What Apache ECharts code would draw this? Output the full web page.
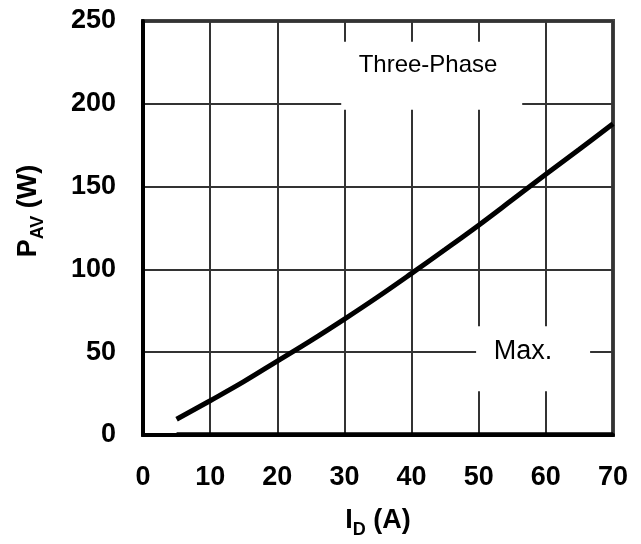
<!DOCTYPE html>
<html>
<head>
<meta charset="utf-8">
<script src="https://cdn.jsdelivr.net/npm/echarts@6/dist/echarts.min.js"></script>
<style>
html,body{margin:0;padding:0;background:#fff;}
#chart{width:641px;height:544px;}
</style>
</head>
<body>
<div id="chart"></div>
<script>
// Drain current I_D (A)
var currentA = [5, 10, 15, 20, 25, 30, 35, 40, 45, 50, 55, 60, 65, 70];
// Max. average power loss, three-phase (W)
var powerMaxW = [9.5, 20.7, 32.2, 44.6, 57, 70, 83.5, 97.6, 112, 126.7, 142, 157.4, 172.5, 188];
// Lower curve lying on the axis (W)
var powerLowW = [0.5, 0.5, 0.5, 0.5, 0.5, 0.5, 0.5, 0.5, 0.5, 0.5, 0.5, 0.5, 0.5, 0.5];
// Axis ticks
var xTicks = [0, 10, 20, 30, 40, 50, 60, 70];
var yTicks = [0, 50, 100, 150, 200, 250];
// Annotation texts
var annotationTexts = ['Three-Phase', 'Max.'];

var FONT = "'Liberation Sans', Arial, sans-serif";
function pairs(xs, ys){ return xs.map(function(x,i){ return [x, ys[i]]; }); }

var chart = echarts.init(document.getElementById('chart'), null, {renderer:'canvas'});
chart.setOption({
  animation: false,
  backgroundColor: '#fff',
  grid: {
    left: 143, right: 28, top: 21, bottom: 107,
    show: true, borderColor: '#444', borderWidth: 4, backgroundColor: '#fff'
  },
  xAxis: {
    type: 'value',
    min: xTicks[0], max: xTicks[xTicks.length-1], interval: 10,
    axisLine: {show: true, onZero: false, lineStyle: {color: '#000', width: 4}},
    axisTick: {show: false},
    splitLine: {show: true, lineStyle: {color: '#333', width: 2}},
    axisLabel: {margin: 29, color: '#000', fontFamily: FONT, fontWeight: 'bold', fontSize: 27},
    name: '{m|I}{s|D}{m| (A)}',
    nameLocation: 'middle',
    nameGap: 68,
    nameTextStyle: {
      fontFamily: FONT, fontWeight: 'bold', color: '#000',
      rich: {
        m: {fontFamily: FONT, fontWeight: 'bold', fontSize: 27, color: '#000', lineHeight: 36},
        s: {fontFamily: FONT, fontWeight: 'bold', fontSize: 18, color: '#000', lineHeight: 18, verticalAlign: 'bottom'}
      }
    }
  },
  yAxis: {
    type: 'value',
    min: yTicks[0], max: yTicks[yTicks.length-1], interval: 50,
    axisLine: {show: true, onZero: false, lineStyle: {color: '#000', width: 4}},
    axisTick: {show: false},
    splitLine: {show: true, lineStyle: {color: '#333', width: 2}},
    axisLabel: {margin: 27, color: '#000', fontFamily: FONT, fontWeight: 'bold', fontSize: 27},
    name: '{m|P}{s|AV}{m| (W)}',
    nameLocation: 'middle',
    nameGap: 96,
    nameTextStyle: {
      fontFamily: FONT, fontWeight: 'bold', color: '#000',
      padding: [0, 0, 0, 34],
      rich: {
        m: {fontFamily: FONT, fontWeight: 'bold', fontSize: 27, color: '#000', lineHeight: 36},
        s: {fontFamily: FONT, fontWeight: 'bold', fontSize: 18, color: '#000', lineHeight: 18, verticalAlign: 'bottom'}
      }
    }
  },
  series: [
    {
      type: 'line', data: pairs(currentA, powerMaxW), smooth: 0.4, showSymbol: false,
      lineStyle: {color: '#000', width: 5}, z: 5
    },
    {
      type: 'line', data: pairs(currentA, powerLowW), showSymbol: false,
      lineStyle: {color: '#000', width: 4}, z: 5
    },
    {
      // white boxes behind the annotation texts
      type: 'scatter', symbolSize: 1, itemStyle: {color: '#fff', opacity: 1}, z: 6, silent: true,
      data: [
        {value: [43.0, 217], label: {show: true, position: 'inside', formatter: ' ',
          width: 181, height: 68, backgroundColor: '#fff', padding: 0}},
        {value: [58.1, 46], label: {show: true, position: 'inside', formatter: ' ',
          width: 114, height: 65, backgroundColor: '#fff', padding: 0}}
      ]
    },
    {
      type: 'scatter', symbolSize: 1, itemStyle: {color: '#fff', opacity: 1}, z: 7, silent: true,
      data: [
        {value: [42.45, 223], label: {show: true, position: 'inside', formatter: annotationTexts[0],
          fontFamily: FONT, fontSize: 24, color: '#000'}},
        {value: [56.6, 50.5], label: {show: true, position: 'inside', formatter: annotationTexts[1],
          fontFamily: FONT, fontSize: 27, color: '#000'}}
      ]
    }
  ]
});
</script>
</body>
</html>
